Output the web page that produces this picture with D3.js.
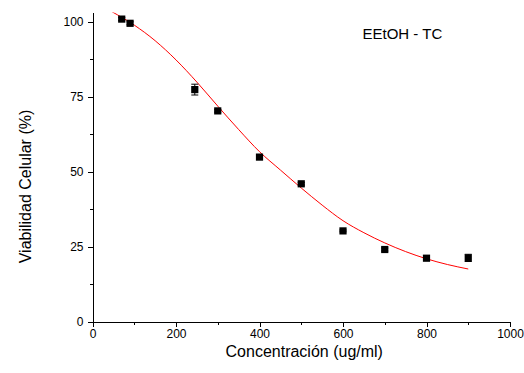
<!DOCTYPE html>
<html>
<head>
<meta charset="utf-8">
<script src="https://cdn.jsdelivr.net/npm/d3@7"></script>
<style>
  body { margin: 0; background: #fff; }
  svg { display: block; font-family: "Liberation Sans", Arial, sans-serif; }
  .axis path, .axis line { stroke: #000; stroke-width: 1; shape-rendering: crispEdges; }
  .axis text { fill: #000; font-size: 12px; }
</style>
</head>
<body>
<div id="chart"></div>
<script>
// measured points (concentration, viability, error)
var conc = [70, 90, 245, 300, 400, 500, 600, 700, 800, 900];
var viab = [100.8, 99.4, 77.3, 70.2, 54.8, 45.9, 30.2, 24.0, 21.1, 21.2];
var err  = [0.5, 0.5, 1.8, 0.4, 0.8, 0.4, 0.3, 0.5, 0.4, 1.2];

// fitted curve
var fitX = [46, 100, 150, 200, 250, 300, 350, 400, 450, 500, 550, 600, 650, 700, 750, 800, 850, 900];
var fitY = [103.3, 98.8, 93.6, 87.2, 79.8, 71.8, 64.0, 56.6, 50.5, 44.5, 38.8, 33.6, 29.6, 26.2, 23.3, 20.9, 19.0, 17.5];

var xTicks = [0, 200, 400, 600, 800, 1000];
var yTicks = [0, 25, 50, 75, 100];

var W = 524, H = 373;
var margin = { top: 12.5, right: 14, bottom: 51.5, left: 92.5 };
var width = W - margin.left - margin.right,
    height = H - margin.top - margin.bottom;

var svg = d3.select("#chart").append("svg")
    .attr("width", W)
    .attr("height", H)
  .append("g")
    .attr("transform", "translate(" + margin.left + "," + margin.top + ")");

var x = d3.scaleLinear().domain([0, 1000]).range([0, width]);
var y = d3.scaleLinear().domain([0, 103]).range([height, 0]);

// minor ticks first
svg.append("g")
    .attr("class", "axis")
    .attr("transform", "translate(0," + height + ")")
    .call(d3.axisBottom(x).tickValues([100, 300, 500, 700, 900]).tickSize(3).tickFormat(""))
    .select(".domain").remove();
svg.append("g")
    .attr("class", "axis")
    .call(d3.axisLeft(y).tickValues([12.5, 37.5, 62.5, 87.5]).tickSize(3).tickFormat(""))
    .select(".domain").remove();

// major axes
svg.append("g")
    .attr("class", "x-axis axis")
    .attr("transform", "translate(0," + height + ")")
    .call(d3.axisBottom(x).tickValues(xTicks).tickSize(5).tickSizeOuter(0)
        .tickPadding(3).tickFormat(d3.format("d")));

svg.append("g")
    .attr("class", "y-axis axis")
    .call(d3.axisLeft(y).tickValues(yTicks).tickSize(5).tickSizeOuter(0).tickPadding(4));

// clip for the fit line
svg.append("defs").append("clipPath")
    .attr("id", "clip")
  .append("rect")
    .attr("width", width)
    .attr("height", height);

var line = d3.line()
    .x(function(d, i) { return x(fitX[i]); })
    .y(function(d, i) { return y(fitY[i]); })
    .curve(d3.curveMonotoneX);

svg.append("path")
    .attr("clip-path", "url(#clip)")
    .attr("d", line(fitX))
    .attr("fill", "none")
    .attr("stroke", "#ff0000")
    .attr("stroke-width", 1);

// error bars
var eb = svg.selectAll(".err")
    .data(conc)
    .enter().append("g")
    .attr("class", "err");

eb.append("line")
    .attr("x1", function(d) { return x(d); })
    .attr("x2", function(d) { return x(d); })
    .attr("y1", function(d, i) { return y(viab[i] - err[i]); })
    .attr("y2", function(d, i) { return y(viab[i] + err[i]); })
    .attr("stroke", "#000");

[-1, 1].forEach(function(s) {
    eb.append("line")
        .attr("x1", function(d) { return x(d) - 3.5; })
        .attr("x2", function(d) { return x(d) + 3.5; })
        .attr("y1", function(d, i) { return y(viab[i] + s * err[i]); })
        .attr("y2", function(d, i) { return y(viab[i] + s * err[i]); })
        .attr("stroke", "#000");
});

// markers
svg.selectAll(".pt")
    .data(conc)
    .enter().append("rect")
    .attr("class", "pt")
    .attr("x", function(d) { return x(d) - 3.6; })
    .attr("y", function(d, i) { return y(viab[i]) - 3.6; })
    .attr("width", 7.2)
    .attr("height", 7.2)
    .attr("fill", "#000");

// labels
svg.append("text")
    .attr("x", width / 2 + 3)
    .attr("y", height + 35)
    .attr("text-anchor", "middle")
    .style("font-size", "16px")
    .text("Concentración (ug/ml)");

svg.append("text")
    .attr("transform", "rotate(-90)")
    .attr("x", -height / 2 - 19.5)
    .attr("y", -62)
    .attr("text-anchor", "middle")
    .style("font-size", "16px")
    .text("Viabilidad Celular (%)");

svg.append("text")
    .attr("x", 270)
    .attr("y", 26.5)
    .style("font-size", "15px")
    .text("EEtOH - TC");
</script>
</body>
</html>
